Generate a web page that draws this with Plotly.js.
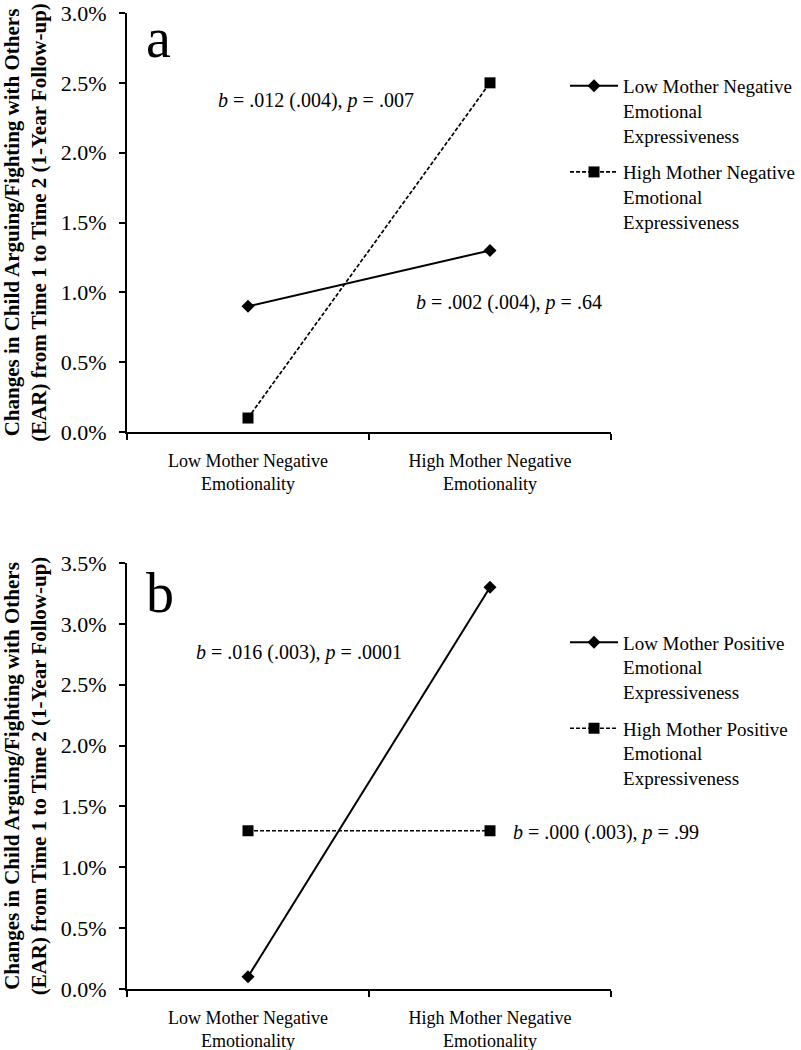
<!DOCTYPE html>
<html>
<head>
<meta charset="utf-8">
<script src="https://cdn.plot.ly/plotly-3.0.1.min.js"></script>
<style>html,body{margin:0;padding:0;background:#fff;}</style>
</head>
<body>
<div id="chart" style="width:801px;height:1050px;"></div>
<script>
const categories = ["Low Mother Negative<br>Emotionality", "High Mother Negative<br>Emotionality"];

const seriesA_low_name = "Low Mother Negative<br>Emotional<br>Expressiveness";
const seriesA_high_name = "High Mother Negative<br>Emotional<br>Expressiveness";
const seriesA_low = [0.009, 0.013];
const seriesA_high = [0.001, 0.025];

const seriesB_low_name = "Low Mother Positive<br>Emotional<br>Expressiveness";
const seriesB_high_name = "High Mother Positive<br>Emotional<br>Expressiveness";
const seriesB_low = [0.001, 0.033];
const seriesB_high = [0.013, 0.013];

const yTicksA = [0, 0.005, 0.01, 0.015, 0.02, 0.025, 0.03];
const yTicksB = [0, 0.005, 0.01, 0.015, 0.02, 0.025, 0.03, 0.035];

const yTitle = "Changes in Child Arguing/Fighting with Others<br>(EAR) from Time 1 to Time 2 (1-Year Follow-up)";

const serif = "Liberation Serif, Times New Roman, serif";
const black = "#000";

const traces = [
  {x: categories, y: seriesA_low, name: seriesA_low_name, type: "scatter", mode: "lines+markers",
   xaxis: "x", yaxis: "y", legend: "legend", legendgroup: "a1",
   line: {color: black, width: 2}, marker: {symbol: "diamond", size: 10, color: black}},
  {x: categories, y: seriesA_high, name: seriesA_high_name, type: "scatter", mode: "lines+markers",
   xaxis: "x", yaxis: "y", legend: "legend", legendgroup: "a2",
   line: {color: black, width: 1.7, dash: "4px,2px"}, marker: {symbol: "square", size: 11, color: black}},
  {x: categories, y: seriesB_low, name: seriesB_low_name, type: "scatter", mode: "lines+markers",
   xaxis: "x2", yaxis: "y2", legend: "legend2", legendgroup: "b1",
   line: {color: black, width: 2}, marker: {symbol: "diamond", size: 10, color: black}},
  {x: categories, y: seriesB_high, name: seriesB_high_name, type: "scatter", mode: "lines+markers",
   xaxis: "x2", yaxis: "y2", legend: "legend2", legendgroup: "b2",
   line: {color: black, width: 1.7, dash: "4px,2px"}, marker: {symbol: "square", size: 11, color: black}}
];

const xBase = {
  type: "category", range: [-0.5, 1.5], showgrid: false, zeroline: false,
  showline: true, linecolor: black, linewidth: 2,
  ticks: "outside", tickson: "boundaries", ticklen: 6, tickwidth: 2, tickcolor: black,
  tickfont: {family: serif, size: 18, color: black}, ticklabelstandoff: 11,
  fixedrange: true
};
const yBase = {
  showgrid: false, zeroline: false, showline: true, linecolor: black, linewidth: 2,
  ticks: "outside", ticklen: 6, tickwidth: 2, tickcolor: black,
  tickformat: ".1%", tickmode: "array", ticklabeloverflow: "allow",
  tickfont: {family: serif, size: 22, color: black}, ticklabelstandoff: 8,
  title: {text: yTitle, font: {family: serif, size: 21, color: black, weight: "bold"}, standoff: 12},
  fixedrange: true
};

const legendBase = {
  font: {family: serif, size: 19, color: black}, bgcolor: "rgba(0,0,0,0)",
  xref: "container", yref: "container",
  xanchor: "left", yanchor: "top", valign: "top", tracegroupgap: 9, itemwidth: 48
};

const annFont = {family: serif, size: 20, color: black};

const layout = {
  width: 801, height: 1050,
  margin: {l: 127, r: 190, t: 13, b: 61, autoexpand: false},
  paper_bgcolor: "#fff", plot_bgcolor: "#fff",
  showlegend: true,
  xaxis: Object.assign({}, xBase, {domain: [0, 1], anchor: "y"}),
  yaxis: Object.assign({}, yBase, {domain: [0.5707, 1], range: [0, 0.03], tickvals: yTicksA, anchor: "x"}),
  xaxis2: Object.assign({}, xBase, {domain: [0, 1], anchor: "y2"}),
  yaxis2: Object.assign({}, yBase, {domain: [0, 0.43648], range: [0, 0.035], tickvals: yTicksB, anchor: "x2"}),
  legend: Object.assign({}, legendBase, {x: 0.7054, y: 0.9362}),
  legend2: Object.assign({}, legendBase, {x: 0.7054, y: 0.4064}),
  annotations: [
    {text: "a", xref: "x domain", yref: "y domain", x: 0.035, y: 0.94, xanchor: "left", yanchor: "middle",
     showarrow: false, font: {family: serif, size: 56, color: black}},
    {text: "b", xref: "x2 domain", yref: "y2 domain", x: 0.035, y: 0.93, xanchor: "left", yanchor: "middle",
     showarrow: false, font: {family: serif, size: 56, color: black}},
    {text: "<i>b</i> = .012 (.004), <i>p</i> = .007", xref: "x domain", yref: "y domain", x: 0.184, y: 0.792,
     xanchor: "left", yanchor: "middle", showarrow: false, font: annFont},
    {text: "<i>b</i> = .002 (.004), <i>p</i> = .64", xref: "x domain", yref: "y domain", x: 0.593, y: 0.31,
     xanchor: "left", yanchor: "middle", showarrow: false, font: annFont},
    {text: "<i>b</i> = .016 (.003), <i>p</i> = .0001", xref: "x2 domain", yref: "y2 domain", x: 0.138, y: 0.789,
     xanchor: "left", yanchor: "middle", showarrow: false, font: annFont},
    {text: "<i>b</i> = .000 (.003), <i>p</i> = .99", xref: "x2 domain", yref: "y2 domain", x: 0.793, y: 0.3685,
     xanchor: "left", yanchor: "middle", showarrow: false, font: annFont}
  ]
};

Plotly.newPlot("chart", traces, layout, {displayModeBar: false, staticPlot: true});
</script>
</body>
</html>
